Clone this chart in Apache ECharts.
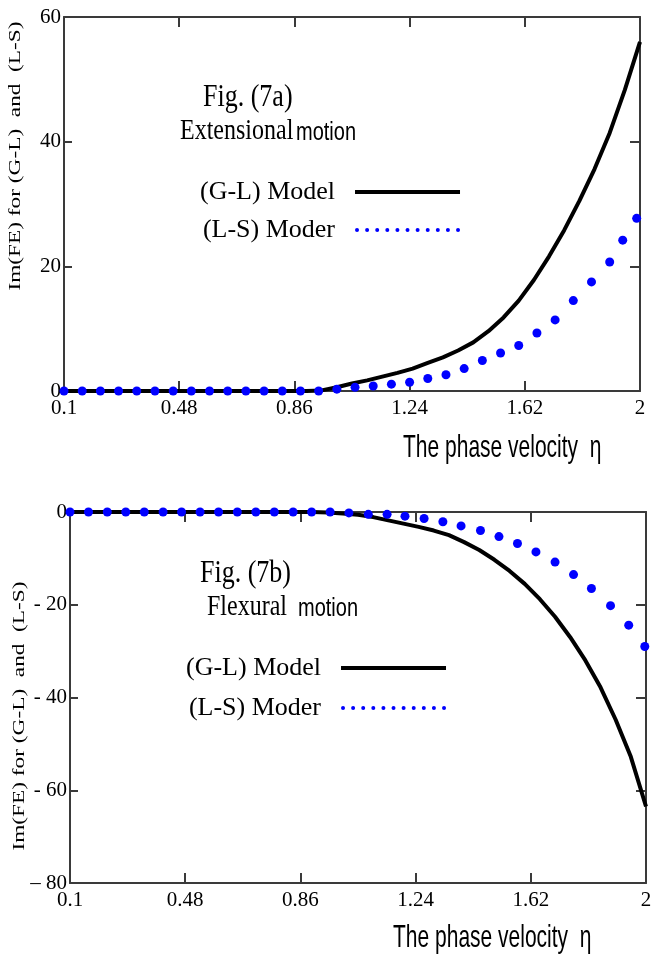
<!DOCTYPE html>
<html><head><meta charset="utf-8">
<script src="https://cdn.jsdelivr.net/npm/echarts@6/dist/echarts.min.js"></script>
<style>html,body{margin:0;padding:0;background:#fff}#c{width:655px;height:958px}</style>
</head><body><div id="c"></div>
<script>
// ---- tick labels ----
const xTickValues = [0.1, 0.48, 0.86, 1.24, 1.62, 2];
const xTickLabels = ['0.1', '0.48', '0.86', '1.24', '1.62', '2'];
const yTickValuesA = [0, 20, 40, 60];
const yTickLabelsA = ['0', '20', '40', '60'];
const yTickValuesB = [-80, -60, -40, -20, 0];
const yTickLabelsB = ['\u2013 80', '- 60', '- 40', '- 20', '0'];

// ---- (G-L) Model, solid black line ----
const etaGL = [0.1, 0.2, 0.3, 0.4, 0.5, 0.6, 0.7, 0.8, 0.9, 0.95, 1.0, 1.05, 1.1, 1.15, 1.2, 1.25, 1.3, 1.35, 1.4, 1.45, 1.5, 1.55, 1.6, 1.65, 1.7, 1.75, 1.8, 1.85, 1.9, 1.95, 2.0];
const glExtensional = [0, 0, 0, 0, 0, 0, 0, 0, 0, 0.1, 0.6, 1.2, 1.7, 2.3, 2.9, 3.6, 4.5, 5.4, 6.5, 7.8, 9.6, 11.8, 14.5, 17.8, 21.6, 25.8, 30.5, 35.6, 41.4, 48.3, 56];
const glFlexural = [0, 0, 0, 0, 0, 0, 0, 0, 0, -0.1, -0.3, -0.6, -1.1, -1.8, -2.5, -3.2, -4.0, -5.0, -6.5, -8.2, -10.3, -12.7, -15.5, -18.8, -22.6, -27.0, -32.0, -37.8, -44.8, -52.8, -63.5];

// ---- (L-S) Moder, blue dots ----
const etaLSa = [0.1, 0.16, 0.22, 0.28, 0.34, 0.40, 0.46, 0.52, 0.58, 0.64, 0.70, 0.76, 0.82, 0.88, 0.94, 1.0, 1.06, 1.12, 1.18, 1.24, 1.30, 1.36, 1.42, 1.48, 1.54, 1.60, 1.66, 1.72, 1.78, 1.84, 1.90, 1.943, 1.989];
const lsExtensional = [0, 0, 0, 0, 0, 0, 0, 0, 0, 0, 0, 0, 0, 0, 0, 0.3, 0.6, 0.8, 1.1, 1.4, 2.0, 2.6, 3.6, 4.9, 6.1, 7.3, 9.3, 11.4, 14.5, 17.5, 20.7, 24.2, 27.7];
const etaLSb = [0.1, 0.161, 0.223, 0.284, 0.345, 0.407, 0.468, 0.529, 0.59, 0.652, 0.713, 0.774, 0.836, 0.897, 0.958, 1.02, 1.084, 1.146, 1.205, 1.268, 1.33, 1.39, 1.454, 1.515, 1.576, 1.637, 1.70, 1.761, 1.82, 1.883, 1.943, 1.996];
const lsFlexural = [0, 0, 0, 0, 0, 0, 0, 0, 0, 0, 0, 0, 0, 0, 0, -0.2, -0.5, -0.5, -0.9, -1.4, -2.1, -3.0, -4.0, -5.3, -6.8, -8.6, -10.8, -13.5, -16.5, -20.2, -24.4, -29.0];

const SERIF = 'Liberation Serif';
const SANS = 'Liberation Sans';
const AXIS_COLOR = '#3a3a3a';

function pairs(xs, ys) { return xs.map((x, i) => [x, ys[i]]); }
function fmt(vals, labels) { return v => { const i = vals.findIndex(t => Math.abs(t - v) < 1e-9); return i >= 0 ? labels[i] : ''; }; }

function xAxes(gridIndex) {
  const line = { onZero: false, lineStyle: { color: AXIS_COLOR, width: 2 } };
  return [
    { gridIndex, type: 'value', position: 'bottom', min: 0.1, max: 2,
      axisLine: line,
      axisTick: { inside: true, length: 10, customValues: xTickValues, lineStyle: { color: AXIS_COLOR, width: 2 } },
      axisLabel: { customValues: xTickValues, formatter: fmt(xTickValues, xTickLabels), showMinLabel: true, showMaxLabel: true,
        fontFamily: SERIF, fontSize: 21, color: '#000', margin: 7 },
      splitLine: { show: false } },
    { gridIndex, type: 'value', position: 'top', min: 0.1, max: 2,
      axisLine: line,
      axisTick: { inside: true, length: 10, customValues: xTickValues, lineStyle: { color: AXIS_COLOR, width: 2 } },
      axisLabel: { show: false }, splitLine: { show: false } }
  ];
}
function yAxes(gridIndex, min, max, vals, labels) {
  const line = { onZero: false, lineStyle: { color: AXIS_COLOR, width: 2 } };
  return [
    { gridIndex, type: 'value', position: 'left', min, max, interval: 20,
      axisLine: line,
      axisTick: { inside: true, length: 8, lineStyle: { color: AXIS_COLOR, width: 2 } },
      axisLabel: { formatter: fmt(vals, labels), showMinLabel: true, showMaxLabel: true,
        fontFamily: SERIF, fontSize: 21, color: '#000', margin: 3 },
      splitLine: { show: false } },
    { gridIndex, type: 'value', position: 'right', min, max, interval: 20,
      axisLine: line,
      axisTick: { inside: true, length: 10, lineStyle: { color: AXIS_COLOR, width: 2 } },
      axisLabel: { show: false }, splitLine: { show: false } }
  ];
}

// legend icons
const dotIcon = 'path://' + Array.from({ length: 11 }, (_, k) => {
  const cx = 2 + k * 10.1;
  return 'M' + (cx - 2) + ',2 a2,2 0 1,0 4,0 a2,2 0 1,0 -4,0 Z';
}).join(' ');

function legend(left, top, gap) {
  return {
    left, top, orient: 'vertical', align: 'right', padding: 0, itemGap: gap,
    itemWidth: 105, itemHeight: 4, selectedMode: false,
    textStyle: { fontFamily: SERIF, fontSize: 26, color: '#000', padding: [0, 15, 0, 0] },
    data: [ { name: '(G-L) Model', icon: 'rect' }, { name: '(L-S) Moder', icon: dotIcon } ]
  };
}

function label(text, x, y, family, size, valign, extra) {
  return Object.assign({ type: 'text', x, y, silent: true,
    style: { text, fontFamily: family, fontSize: size, fill: '#000', align: 'left', verticalAlign: valign, textAlign: 'left', textVerticalAlign: valign } }, extra || {});
}
function yName(x, y) {
  return { type: 'text', x, y, rotation: Math.PI / 2, scaleX: 1.37, silent: true,
    style: { text: 'Im(FE) for (G-L)  and  (L-S)', fontFamily: SERIF, fontSize: 17, fill: '#000',
      align: 'center', verticalAlign: 'middle', textAlign: 'center', textVerticalAlign: 'middle' } };
}

const chart = echarts.init(document.getElementById('c'), null, { renderer: 'canvas' });
chart.setOption({
  backgroundColor: '#fff',
  animation: false,
  grid: [
    { left: 64, top: 17, width: 576, height: 374 },
    { left: 70, top: 512, width: 576, height: 371 }
  ],
  xAxis: [...xAxes(0), ...xAxes(1)],
  yAxis: [...yAxes(0, 0, 60, yTickValuesA, yTickLabelsA), ...yAxes(1, -80, 0, yTickValuesB, yTickLabelsB)],
  legend: [legend(200, 179, 12), legend(186, 655, 14)],
  series: [
    { name: '(G-L) Model', type: 'line', xAxisIndex: 0, yAxisIndex: 0, data: pairs(etaGL, glExtensional),
      showSymbol: false, lineStyle: { color: '#000', width: 4 }, itemStyle: { color: '#000' }, z: 2 },
    { name: '(L-S) Moder', type: 'scatter', xAxisIndex: 0, yAxisIndex: 0, data: pairs(etaLSa, lsExtensional),
      symbolSize: 9, itemStyle: { color: '#0000ff', opacity: 1 }, z: 3 },
    { name: '(G-L) Model', type: 'line', xAxisIndex: 2, yAxisIndex: 2, data: pairs(etaGL, glFlexural),
      showSymbol: false, lineStyle: { color: '#000', width: 4 }, itemStyle: { color: '#000' }, z: 2 },
    { name: '(L-S) Moder', type: 'scatter', xAxisIndex: 2, yAxisIndex: 2, data: pairs(etaLSb, lsFlexural),
      symbolSize: 9, itemStyle: { color: '#0000ff', opacity: 1 }, z: 3 }
  ],
  graphic: [
    yName(16, 156),
    yName(20, 716),
    label('The phase velocity  \u03b7', 403, 448, SANS, 21, 'middle', { scaleY: 1.5 }),
    label('The phase velocity  \u03b7', 393, 938, SANS, 21, 'middle', { scaleY: 1.5 }),
    label('Fig. (7a)', 203, 97, SERIF, 26, 'middle', { scaleY: 1.25 }),
    label('Extensional', 180, 146, SERIF, 24, 'bottom', { scaleY: 1.25 }),
    label('motion', 296, 146, SANS, 20, 'bottom', { scaleY: 1.25 }),
    label('Fig. (7b)', 200, 573, SERIF, 26, 'middle', { scaleY: 1.25 }),
    label('Flexural', 207, 622, SERIF, 24, 'bottom', { scaleY: 1.25 }),
    label('motion', 298, 622, SANS, 20, 'bottom', { scaleY: 1.25 })
  ]
});
</script>
</body></html>
